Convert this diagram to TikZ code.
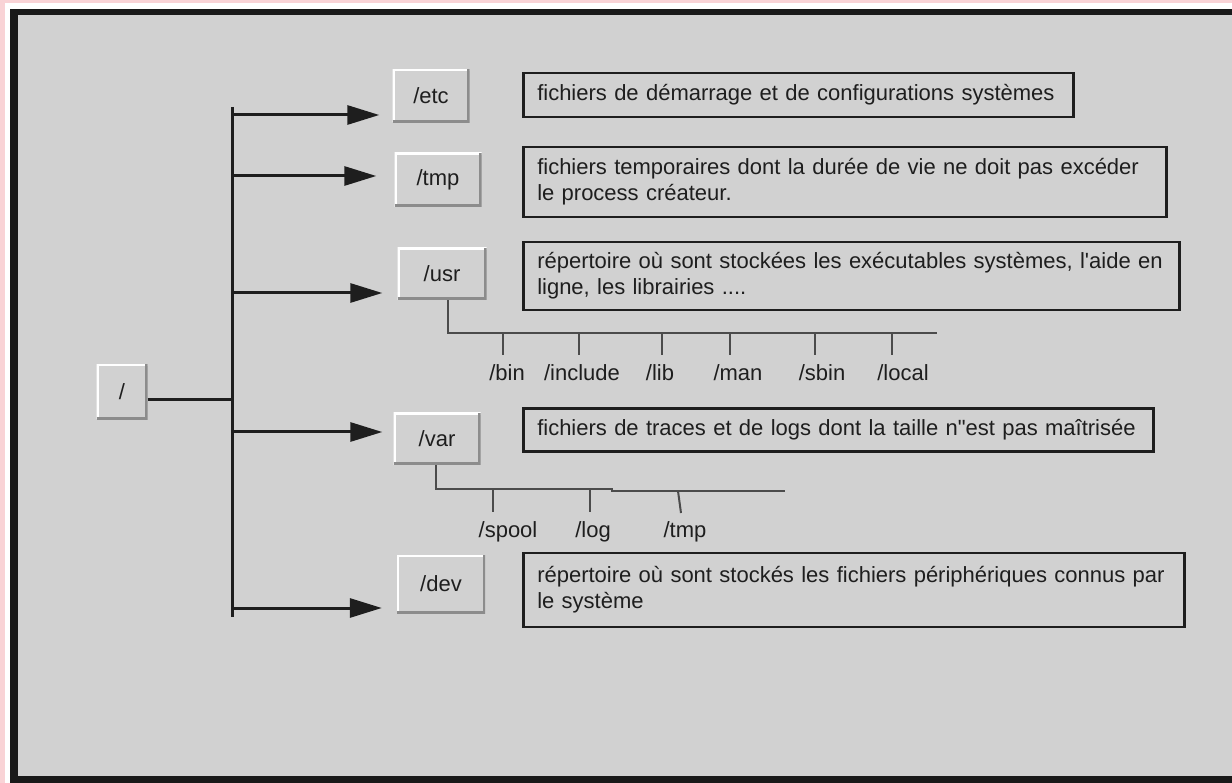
\documentclass[tikz,border=0pt]{standalone}
\usepackage{fontspec}
\setmainfont{Liberation Sans}
\usepackage{tikz}
\usetikzlibrary{arrows.meta, positioning}
\definecolor{Panel}{HTML}{D1D1D1}
\definecolor{Blush}{HTML}{F9D3D6}
\definecolor{Ink}{HTML}{1E1E1E}
\definecolor{Shade}{HTML}{8C8C8C}

\begin{document}
\begin{tikzpicture}[x=1pt, y=-1pt,
  every node/.style={font=\fontsize{22}{26}\selectfont, text=Ink},
  btn/.style={fill=Panel, minimum height=54pt, inner sep=0pt,
     path picture={
       \draw[white, line width=4pt] (path picture bounding box.south west)
         -- (path picture bounding box.north west) -- (path picture bounding box.north east);
       \draw[Shade, line width=5pt] (path picture bounding box.south west)
         -- (path picture bounding box.south east) -- (path picture bounding box.north east);}},
  desc/.style={draw=Ink, line width=2.5pt, fill=Panel, anchor=west, align=left,
     inner xsep=14pt, inner ysep=0pt},
  leaf/.style={inner sep=0pt},
  arr/.style={-{Triangle[length=32pt, width=19pt]}, line width=3pt, Ink},
  trunk/.style={line width=3pt, Ink},
  sub/.style={line width=2pt, Ink!80}]
  \useasboundingbox (0,0) rectangle (1232,783);
  \fill[Blush] (0,0) rectangle (1260,800);
  \fill[white] (5,3) rectangle (1260,800);
  \fill[black!90] (10,9) rectangle (1260,800);
  \fill[Panel] (18,15) rectangle (1260,776);

  \node[btn, minimum width=51pt, minimum height=55pt] (root) at (122,392) {/};
  \node[btn, minimum width=77pt, minimum height=53pt] (etc) at (431,96) {/etc};
  \node[btn, minimum width=87pt] (tmp) at (438,180) {/tmp};
  \node[btn, minimum width=89pt, minimum height=52pt] (usr) at (442,274) {/usr};
  \node[btn, minimum width=87pt, minimum height=52pt] (var) at (437,439) {/var};
  \node[btn, minimum width=88pt, minimum height=58pt] (dev) at (441,584) {/dev};

  \node[desc, minimum height=44pt, text width=522pt] (etc-d) at (522,95)
       {fichiers de démarrage et de configurations systèmes};
  \node[desc, minimum height=70pt, text width=615pt] (tmp-d) at (522,182)
       {fichiers temporaires dont la durée de vie ne doit pas excéder\\le process créateur.};
  \node[desc, minimum height=68pt, text width=628pt] (usr-d) at (522,276)
       {répertoire où sont stockées les exécutables systèmes, l\textquotesingle aide en\\ligne, les librairies ....};
  \node[desc, minimum height=43pt, text width=602pt] (var-d) at (522,430)
       {fichiers de traces et de logs dont la taille n\textquotedbl est pas maîtrisée};
  \node[desc, minimum height=74pt, text width=633pt] (dev-d) at (522,590)
       {répertoire où sont stockés les fichiers périphériques connus par\\le système};

  \coordinate (top) at (232,107);
  \coordinate (bot) at (232,617);
  \draw[trunk] (top) -- (bot);
  \coordinate (rj) at ([shift={(0,8)}]root.east);
  \draw[trunk] (rj) -- (rj -| top);
  \foreach \n/\dx/\dy in {etc/-13/19, tmp/-18/-4, usr/-15/19, var/-11/-7, dev/-15/24}{
    \coordinate (\n-in) at ([shift={(\dx,\dy)}]\n.west);
    \draw[arr] (top |- \n-in) -- (\n-in);
  }

  \coordinate (usr-bar) at (937,333);
  \draw[sub] ([xshift=6pt]usr.south) |- (usr-bar);
  \foreach \x/\lx/\d in {503/507/bin, 579/582/include, 662/660/lib,
                         730/738/man, 815/822/sbin, 892/903/local}{
    \draw[sub] (\x,333) -- (\x,355);
    \node[leaf] (usr-\d) at (\lx,373) {/\d};
  }

  \coordinate (var-knee) at (612,489);
  \coordinate (var-bar) at (785,491);
  \draw[sub] ([xshift=-1pt]var.south) |- (var-knee) |- (var-bar);
  \foreach \x/\lx/\d in {493/508/spool, 590/593/log}{
    \draw[sub] (\x,489) -- (\x,512);
    \node[leaf] (var-\d) at (\lx,532) {/\d};
  }
  \draw[sub] (678,491) -- (681,513);
  \node[leaf] (var-tmp) at (685,532) {/tmp};
\end{tikzpicture}
\end{document}
